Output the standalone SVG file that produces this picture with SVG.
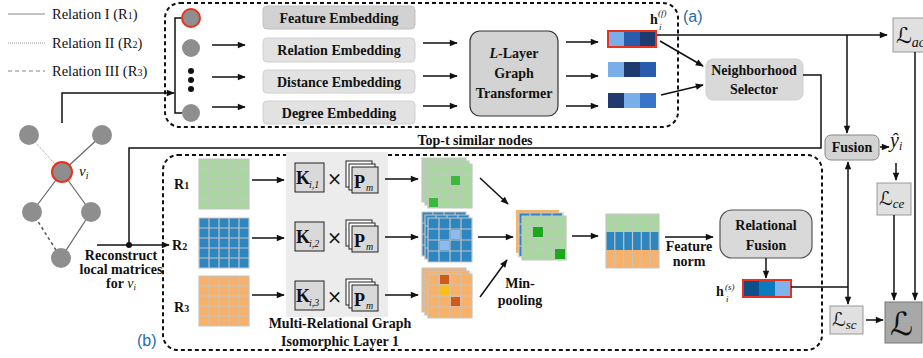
<svg xmlns="http://www.w3.org/2000/svg" xmlns:xlink="http://www.w3.org/1999/xlink" width="923" height="358" viewBox="0 0 923 358">
<style>
.t{font-family:"Liberation Serif","DejaVu Serif",serif;font-weight:bold;font-size:14px;fill:#111}
.tl{font-family:"Liberation Serif","DejaVu Serif",serif;font-size:14.5px;fill:#111}
.m{font-family:"DejaVu Serif","DejaVu Sans",serif;fill:#111}
.kb{font-family:"Liberation Serif","DejaVu Serif",serif;font-weight:bold;font-size:18px;fill:#111}
.mi{font-family:"Liberation Serif","DejaVu Serif",serif;font-style:italic;fill:#111}
.lab{font-family:"Liberation Sans","DejaVu Sans",sans-serif;font-size:16px;fill:#2a6aa6}
.dbox{fill:none;stroke:#111;stroke-width:2;stroke-dasharray:4,3}
.c{fill:none;stroke:#111;stroke-width:1.5}
.ca{fill:none;stroke:#111;stroke-width:1.5;marker-end:url(#ah)}
.node{fill:#8e8e8e}
.emb{fill:#e2e2e2;stroke:#d0d0d0;stroke-width:1}
.gl{fill:none;stroke:#c4c4c4;stroke-width:1.2}
.gr{fill:#a8d8a0}.bl{fill:#2e86c1}.or{fill:#f8b169}
.lbox{fill:#e0e0e0;stroke:#999;stroke-width:1}
</style>
<defs>
<marker id="ah" viewBox="0 0 10 10" refX="9" refY="5" markerWidth="9" markerHeight="8" markerUnits="userSpaceOnUse" orient="auto"><path d="M0,1 L10,5 L0,9 z" fill="#111"/></marker>
<path id="g5" d="M10,0V50M20,0V50M30,0V50M40,0V50M0,10H50M0,20H50M0,30H50M0,40H50M0,0H50V50H0Z" class="gl"/>
<path id="g4" d="M11,0V44M22,0V44M33,0V44M0,11H44M0,22H44M0,33H44M0,0H44V44H0Z" class="gl"/>
</defs>

<!-- legend -->
<g id="legend">
<line x1="8" y1="14" x2="45" y2="14" stroke="#888" stroke-width="1.2"/>
<line x1="8" y1="43" x2="45" y2="43" stroke="#999" stroke-width="1" stroke-dasharray="1,1"/>
<line x1="8" y1="71" x2="45" y2="71" stroke="#888" stroke-width="1.2" stroke-dasharray="4,3"/>
<text class="tl" x="52" y="19">Relation I (R<tspan font-size="10">1</tspan>)</text>
<text class="tl" x="52" y="48">Relation II (R<tspan font-size="10">2</tspan>)</text>
<text class="tl" x="52" y="76">Relation III (R<tspan font-size="10">3</tspan>)</text>
</g>

<!-- input graph -->
<g id="graph">
<line x1="29" y1="135" x2="62" y2="172" stroke="#999" stroke-width="1" stroke-dasharray="1,1"/>
<line x1="102" y1="135" x2="62" y2="172" stroke="#666" stroke-width="1.2"/>
<line x1="62" y1="172" x2="32" y2="212" stroke="#666" stroke-width="1.2"/>
<line x1="62" y1="172" x2="91" y2="212" stroke="#666" stroke-width="1.2"/>
<line x1="32" y1="212" x2="61" y2="258" stroke="#555" stroke-width="1.5" stroke-dasharray="3,3"/>
<line x1="91" y1="212" x2="61" y2="258" stroke="#666" stroke-width="1.2"/>
<circle class="node" cx="29" cy="135" r="10"/>
<circle class="node" cx="102" cy="135" r="10"/>
<circle class="node" cx="62" cy="172" r="10" stroke="#e8321e" stroke-width="2"/>
<circle class="node" cx="32" cy="212" r="10"/>
<circle class="node" cx="91" cy="212" r="10"/>
<circle class="node" cx="61" cy="258" r="10"/>
<text class="mi" x="79" y="176" font-size="15">v<tspan font-size="10" dy="3">i</tspan></text>
<text class="t" x="121" y="260" text-anchor="middle" font-size="13">Reconstruct</text>
<text class="t" x="121" y="274" text-anchor="middle" font-size="13">local matrices</text>
<text class="t" x="121" y="288" text-anchor="middle" font-size="13">for <tspan font-style="italic" font-weight="normal">v</tspan><tspan font-style="italic" font-weight="normal" font-size="9" dy="2">i</tspan></text>
</g>

<!-- box (a) -->
<g id="box-a">
<rect class="dbox" x="165" y="3" width="513" height="124" rx="15"/>
<text class="lab" x="683" y="22">(a)</text>
</g>

<g id="top-nodes">
<path class="c" d="M182,18H175V113H182"/>
<circle class="node" cx="191" cy="18" r="9" stroke="#e8321e" stroke-width="2"/>
<circle class="node" cx="191" cy="48" r="9"/>
<circle cx="191" cy="71" r="3" fill="#111"/>
<circle cx="191" cy="80" r="3" fill="#111"/>
<circle cx="191" cy="89" r="3" fill="#111"/>
<circle class="node" cx="191" cy="113" r="9"/>
</g>

<g id="embeddings">
<rect x="263" y="6" width="152" height="23" rx="4" fill="#d2d2d2" stroke="#c0c0c0"/>
<text class="t" x="339" y="23" text-anchor="middle">Feature Embedding</text>
<rect class="emb" x="263" y="38" width="152" height="24" rx="4"/>
<text class="t" x="339" y="55" text-anchor="middle">Relation Embedding</text>
<rect class="emb" x="263" y="70" width="152" height="23" rx="4"/>
<text class="t" x="339" y="87" text-anchor="middle">Distance Embedding</text>
<rect class="emb" x="263" y="101" width="152" height="23" rx="4"/>
<text class="t" x="339" y="118" text-anchor="middle">Degree Embedding</text>
</g>

<g id="graph-transformer">
<rect x="470" y="31" width="88" height="85" rx="10" fill="#d3d3d3" stroke="#333" stroke-width="1.2"/>
<text class="t" x="514" y="58" text-anchor="middle"><tspan font-style="italic">L</tspan>-Layer</text>
<text class="t" x="514" y="78" text-anchor="middle">Graph</text>
<text class="t" x="514" y="98" text-anchor="middle">Transformer</text>
</g>

<g id="vectors-f">
<rect x="608" y="31" width="16" height="16" fill="#7aaee8"/>
<rect x="624" y="31" width="16" height="16" fill="#2a5cae"/>
<rect x="640" y="31" width="16" height="16" fill="#1e3a6e"/>
<rect x="608" y="31" width="48" height="16" fill="none" stroke="#e8321e" stroke-width="2"/>
<rect x="608" y="62" width="16" height="15" fill="#7aaee8"/>
<rect x="624" y="62" width="16" height="15" fill="#1e3a6e"/>
<rect x="640" y="62" width="16" height="15" fill="#2a5cae"/>
<rect x="608" y="93" width="16" height="15" fill="#1e3a6e"/>
<rect x="624" y="93" width="16" height="15" fill="#7aaee8"/>
<rect x="640" y="93" width="16" height="15" fill="#3a74c8"/>
<text class="t" x="650" y="24" font-size="13">h</text>
<text class="mi" x="658" y="16" font-size="9">(f)</text>
<text class="mi" x="659" y="30" font-size="9">i</text>
</g>

<g id="neighborhood-selector">
<rect x="706" y="59" width="97" height="41" rx="7" fill="#d9d9d9" stroke="#cfcfcf"/>
<text class="t" x="754" y="75" text-anchor="middle">Neighborhood</text>
<text class="t" x="754" y="94" text-anchor="middle">Selector</text>
</g>

<text class="t" x="475" y="145" text-anchor="middle">Top-t similar nodes</text>

<!-- box (b) -->
<g id="box-b">
<rect class="dbox" x="163" y="155" width="659" height="195" rx="15"/>
<text class="lab" x="137" y="346">(b)</text>
<rect x="286" y="152" width="102" height="165" fill="#ececec"/>
</g>

<g id="relation-labels">
<text class="t" x="174" y="189">R<tspan font-size="10">1</tspan></text>
<text class="t" x="172" y="250">R<tspan font-size="10">2</tspan></text>
<text class="t" x="174" y="312">R<tspan font-size="10">3</tspan></text>
</g>

<g id="matrices">
<rect class="gr" x="199" y="159" width="50" height="50"/><use href="#g5" x="199" y="159"/>
<rect class="bl" x="199" y="218" width="50" height="50"/><use href="#g5" x="199" y="218"/>
<rect class="or" x="199" y="276" width="50" height="50"/><use href="#g5" x="199" y="276"/>
</g>

<g id="kernels">
<rect x="295" y="163" width="29" height="29" fill="#d9d9d9" stroke="#222"/>
<text class="kb" x="296" y="184">K</text><text class="mi" x="309" y="188" font-size="10">i,1</text>
<text class="m" x="327" y="185" font-size="18">×</text>
<rect x="346" y="161" width="26" height="26" fill="#fff" stroke="#222"/>
<rect x="349" y="164" width="26" height="26" fill="#fff" stroke="#222"/>
<rect x="352" y="167" width="26" height="26" fill="#d9d9d9" stroke="#222"/>
<text class="kb" x="354" y="188">P</text><text class="mi" x="366" y="191" font-size="10">m</text>

<rect x="295" y="222" width="29" height="29" fill="#d9d9d9" stroke="#222"/>
<text class="kb" x="296" y="243">K</text><text class="mi" x="309" y="247" font-size="10">i,2</text>
<text class="m" x="327" y="244" font-size="18">×</text>
<rect x="346" y="220" width="26" height="26" fill="#fff" stroke="#222"/>
<rect x="349" y="223" width="26" height="26" fill="#fff" stroke="#222"/>
<rect x="352" y="226" width="26" height="26" fill="#d9d9d9" stroke="#222"/>
<text class="kb" x="354" y="247">P</text><text class="mi" x="366" y="250" font-size="10">m</text>

<rect x="295" y="281" width="29" height="29" fill="#d9d9d9" stroke="#222"/>
<text class="kb" x="296" y="302">K</text><text class="mi" x="309" y="306" font-size="10">i,3</text>
<text class="m" x="327" y="303" font-size="18">×</text>
<rect x="346" y="279" width="26" height="26" fill="#fff" stroke="#222"/>
<rect x="349" y="282" width="26" height="26" fill="#fff" stroke="#222"/>
<rect x="352" y="285" width="26" height="26" fill="#d9d9d9" stroke="#222"/>
<text class="kb" x="354" y="306">P</text><text class="mi" x="366" y="309" font-size="10">m</text>

<text class="t" x="340" y="328" text-anchor="middle">Multi-Relational Graph</text>
<text class="t" x="340" y="346" text-anchor="middle">Isomorphic Layer 1</text>
</g>

<g id="stacks">
<rect class="gr" x="422" y="158" width="44" height="44"/><use href="#g4" x="422" y="158"/>
<rect class="gr" x="425" y="161" width="44" height="44"/><use href="#g4" x="425" y="161"/>
<rect class="gr" x="428" y="164" width="44" height="44"/><use href="#g4" x="428" y="164"/>
<rect x="451" y="176" width="9" height="9" fill="#3cb83c"/>
<rect x="429" y="198" width="9" height="9" fill="#3cb83c"/>

<rect class="bl" x="422" y="212" width="44" height="44"/><use href="#g4" x="422" y="212"/>
<rect class="bl" x="425" y="215" width="44" height="44"/><use href="#g4" x="425" y="215"/>
<rect class="bl" x="428" y="218" width="44" height="44"/><use href="#g4" x="428" y="218"/>
<rect x="451" y="230" width="9" height="9" fill="#8fbaf0"/>
<rect x="440" y="241" width="9" height="9" fill="#8fbaf0"/>

<rect class="or" x="422" y="268" width="44" height="44"/><use href="#g4" x="422" y="268"/>
<rect class="or" x="425" y="271" width="44" height="44"/><use href="#g4" x="425" y="271"/>
<rect class="or" x="428" y="274" width="44" height="44"/><use href="#g4" x="428" y="274"/>
<rect x="440" y="275" width="9" height="9" fill="#d2591c"/>
<rect x="440" y="286" width="9" height="9" fill="#f7c01c"/>
<rect x="451" y="297" width="9" height="9" fill="#d2591c"/>
</g>

<g id="min-pooling">
<rect class="or" x="516" y="210" width="43" height="43"/>
<rect class="bl" x="519" y="213" width="43" height="43"/><use href="#g4" x="519" y="213"/>
<rect class="gr" x="522" y="216" width="44" height="44"/><use href="#g4" x="522" y="216"/>
<rect x="533" y="227" width="10" height="10" fill="#1ca81c"/>
<rect x="555" y="249" width="10" height="10" fill="#1ca81c"/>
<text class="t" x="520" y="288" text-anchor="middle">Min-</text>
<text class="t" x="520" y="305" text-anchor="middle">pooling</text>
</g>

<g id="feature-matrix">
<rect class="gr" x="606" y="214" width="53" height="18"/>
<rect class="bl" x="606" y="232" width="53" height="18"/>
<rect class="or" x="606" y="250" width="53" height="18"/>
<path class="gl" d="M614.8,214V268M623.7,214V268M632.5,214V268M641.3,214V268M650.2,214V268M606,214H659V268H606Z"/>
<text class="t" x="689" y="251" text-anchor="middle" font-size="13">Feature</text>
<text class="t" x="689" y="266" text-anchor="middle" font-size="13">norm</text>
</g>

<g id="relational-fusion">
<rect x="720" y="210" width="92" height="48" rx="12" fill="#d9d9d9" stroke="#555" stroke-width="1.2"/>
<text class="t" x="766" y="230" text-anchor="middle">Relational</text>
<text class="t" x="766" y="250" text-anchor="middle">Fusion</text>
</g>

<g id="vector-s">
<rect x="743" y="280" width="16" height="17" fill="#0e4f8a"/>
<rect x="759" y="280" width="16" height="17" fill="#0b7bc0"/>
<rect x="775" y="280" width="16" height="17" fill="#7eb3ee"/>
<rect x="743" y="280" width="48" height="17" fill="none" stroke="#e8321e" stroke-width="2"/>
<text class="t" x="716" y="296" font-size="13">h</text>
<text class="mi" x="725" y="290" font-size="9">(s)</text>
<text class="mi" x="726" y="302" font-size="9">i</text>
</g>

<g id="fusion">
<rect x="825" y="135" width="54" height="25" rx="6" fill="#d3d3d3" stroke="#888"/>
<text class="t" x="852" y="152" text-anchor="middle">Fusion</text>
<text class="mi" x="890" y="147" font-size="20">ŷ<tspan font-size="12" dy="3">i</tspan></text>
</g>

<g id="losses">
<rect class="lbox" x="893" y="18" width="40" height="34"/>
<text class="m" x="896" y="43" font-size="22">ℒ<tspan class="mi" font-size="14" dy="4">ac</tspan></text>
<rect class="lbox" x="877" y="183" width="34" height="32"/>
<text class="m" x="879" y="205" font-size="19">ℒ<tspan class="mi" font-size="13" dy="3">ce</tspan></text>
<rect class="lbox" x="830" y="306" width="33" height="28"/>
<text class="m" x="832" y="326" font-size="19">ℒ<tspan class="mi" font-size="13" dy="3">sc</tspan></text>
<rect x="885" y="302" width="37" height="41" fill="#a8a8a8" stroke="#777"/>
<text class="m" x="890" y="335" font-size="32">ℒ</text>
</g>

<g id="connectors">
<path class="ca" d="M62,123V93H174"/>
<line class="ca" x1="212" y1="45" x2="245" y2="45"/>
<line class="ca" x1="212" y1="77" x2="245" y2="77"/>
<line class="ca" x1="212" y1="107" x2="245" y2="107"/>
<line class="ca" x1="423" y1="43" x2="457" y2="43"/>
<line class="ca" x1="423" y1="76" x2="457" y2="76"/>
<line class="ca" x1="423" y1="106" x2="457" y2="106"/>
<line class="ca" x1="566" y1="42" x2="598" y2="42"/>
<line class="ca" x1="566" y1="76" x2="598" y2="76"/>
<line class="ca" x1="566" y1="106" x2="598" y2="106"/>
<line class="ca" x1="660" y1="41" x2="703" y2="66"/>
<line class="ca" x1="661" y1="95" x2="703" y2="85"/>
<line class="ca" x1="657" y1="35" x2="887" y2="35"/>
<line class="ca" x1="847" y1="35" x2="847" y2="133"/>
<path class="c" d="M803,75H821V148H129V245"/>
<line class="ca" x1="97" y1="245" x2="169" y2="245"/>
<circle cx="129" cy="245" r="3" fill="#111"/>
<line class="ca" x1="252" y1="180" x2="284" y2="180"/>
<line class="ca" x1="252" y1="238" x2="284" y2="238"/>
<line class="ca" x1="252" y1="295" x2="284" y2="295"/>
<line class="ca" x1="385" y1="179" x2="418" y2="179"/>
<line class="ca" x1="385" y1="237" x2="418" y2="237"/>
<line class="ca" x1="385" y1="295" x2="418" y2="295"/>
<line class="ca" x1="480" y1="178" x2="508" y2="204"/>
<line class="ca" x1="478" y1="237" x2="513" y2="237"/>
<line class="ca" x1="480" y1="297" x2="507" y2="260"/>
<line class="ca" x1="572" y1="236" x2="598" y2="236"/>
<line class="ca" x1="665" y1="237" x2="713" y2="237"/>
<line class="ca" x1="766" y1="258" x2="766" y2="278"/>
<path class="c" d="M791,287H848"/>
<line class="ca" x1="848" y1="287" x2="848" y2="162"/>
<line class="ca" x1="848" y1="287" x2="848" y2="304"/>
<line class="ca" x1="880" y1="147" x2="889" y2="147"/>
<line class="ca" x1="896" y1="163" x2="896" y2="180"/>
<line class="ca" x1="894" y1="215" x2="894" y2="300"/>
<line class="ca" x1="915" y1="52" x2="915" y2="300"/>
<line class="ca" x1="866" y1="320" x2="883" y2="320"/>
</g>
</svg>
